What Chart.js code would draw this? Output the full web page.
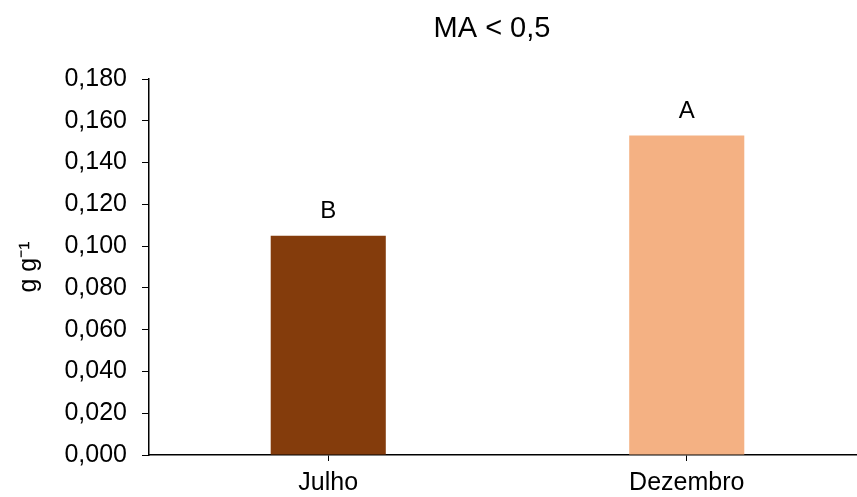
<!DOCTYPE html>
<html lang="pt-br">

<head>
    <meta charset="UTF-8">
    <title>MA &lt; 0,5</title>
    <script src="https://cdn.jsdelivr.net/npm/chart.js"></script>
    <style>
        html, body { margin: 0; padding: 0; background: #fff; overflow: hidden; }
        #wrap { width: 857px; height: 497px; overflow: hidden; }
    </style>
</head>

<body>
    <div id="wrap">
        <canvas id="grafico" width="866" height="497"></canvas>
    </div>

    <script>
        // Dados do gráfico
        const meses = ["Julho", "Dezembro"];
        const valores = [0.105, 0.153];
        const letras = ["B", "A"];
        const cores = ["#843C0C", "#F4B183"];
        const titulo = "MA < 0,5";

        const fonte = "'Liberation Sans', Arial, sans-serif";

        // Título e letras de significância acima das barras
        const textos = {
            id: "textos",
            afterDatasetsDraw(chart) {
                const ctx = chart.ctx;
                ctx.save();
                ctx.fillStyle = "#000";
                ctx.textAlign = "center";
                ctx.textBaseline = "middle";
                ctx.font = "29px " + fonte;
                ctx.fillText(titulo, 492, 29);
                ctx.font = "24px " + fonte;
                chart.getDatasetMeta(0).data.forEach((barra, i) => {
                    ctx.fillText(letras[i], barra.x, barra.y - 24);
                });
                ctx.restore();
            }
        };

        new Chart(document.getElementById("grafico"), {
            type: "bar",
            data: {
                labels: meses,
                datasets: [{
                    data: valores,
                    backgroundColor: cores,
                    borderWidth: 0,
                    barPercentage: 0.321,
                    categoryPercentage: 1
                }]
            },
            options: {
                responsive: false,
                animation: false,
                layout: { padding: { top: 79, left: 0, right: 0, bottom: 0 } },
                plugins: {
                    legend: { display: false },
                    tooltip: { enabled: false }
                },
                scales: {
                    x: {
                        offset: true,
                        grid: { offset: false, drawOnChartArea: false, tickLength: 6, color: "#000" },
                        border: { color: "#000", width: 1.5 },
                        ticks: { color: "#000", font: { family: fonte, size: 25 }, padding: 7 },
                        afterFit: (eixo) => { eixo.height = 42; }
                    },
                    y: {
                        min: 0,
                        max: 0.18,
                        grid: { drawOnChartArea: false, tickLength: 7, color: "#000" },
                        border: { color: "#000", width: 1.5 },
                        ticks: {
                            stepSize: 0.02,
                            color: "#000",
                            padding: 15,
                            font: { family: fonte, size: 25 },
                            callback: (v) => v.toFixed(3).replace(".", ",")
                        },
                        title: {
                            display: true,
                            text: "g g\u207B\u00B9",
                            color: "#000",
                            font: { family: fonte, size: 25 },
                            padding: { top: 14, bottom: 0 }
                        },
                        afterFit: (eixo) => { eixo.width = 149; }
                    }
                }
            },
            plugins: [textos]
        });
    </script>
</body>

</html>
